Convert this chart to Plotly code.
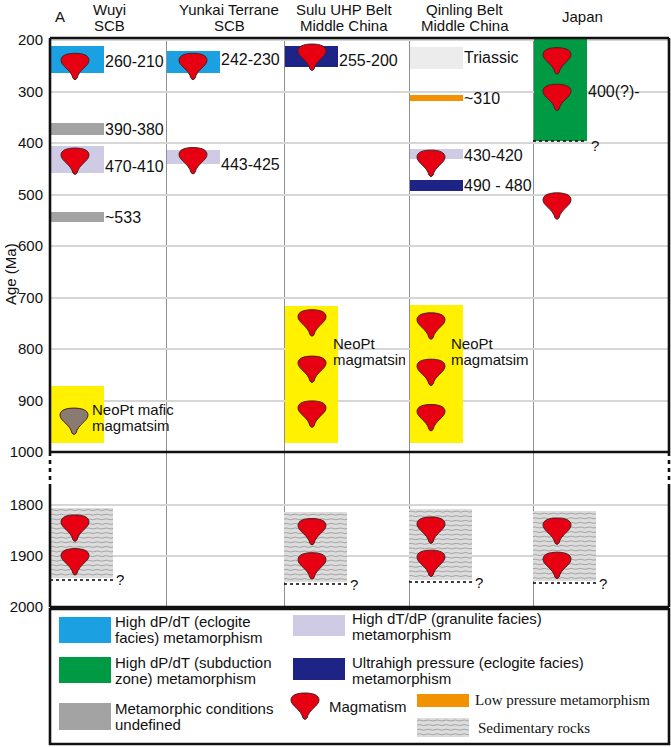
import plotly.graph_objects as go

# ---------------- data ----------------
col_head = [["Wuyi", "SCB"], ["Yunkai Terrane", "SCB"], ["Sulu UHP Belt", "Middle China"],
            ["Qinling Belt", "Middle China"], ["Japan"]]

up_ticks = [200, 300, 400, 500, 600, 700, 800, 900, 1000]
low_ticks = [1800, 1900, 2000]

# metamorphic / magmatic episodes (upper panel, Ma)
rect_kind  = ["hp", "undef", "ht", "undef", "neo", "hp", "ht", "uhp", "neo", "tri", "lp", "ht", "uhp", "neo", "sz"]
rect_col   = [0, 0, 0, 0, 0, 1, 1, 2, 2, 3, 3, 3, 3, 3, 4]
rect_start = [211, 361, 406, 534, 871, 221, 413, 211, 716, 213, 307, 411, 472, 714, 196]
rect_end   = [264, 384, 458, 553, 982, 264, 441, 252, 982, 256, 318, 431, 493, 982, 396]

# sedimentary rocks (lower panel, Ma)
sed_col   = [0, 2, 3, 4]
sed_start = [1805, 1814, 1808, 1812]
sed_end   = [1943, 1951, 1947, 1949]

# magmatism symbols
mag_col = [0, 0, 1, 1, 2, 2, 2, 2, 3, 3, 3, 3, 4, 4, 4]
mag_age = [251, 435, 251, 434, 233, 749, 839, 926, 439, 755, 845, 933, 240, 311, 522]
mag2_col = [0, 0, 2, 2, 3, 3, 4, 4]
mag2_age = [1845, 1911, 1852, 1919, 1849, 1914, 1851, 1918]
mafic_col = [0]
mafic_age = [940]

# text labels next to the bars
lab_text = ["260-210", "390-380", "470-410", "~533", "242-230", "443-425", "255-200",
            "Triassic", "~310", "430-420", "490 - 480", "400(?)-"]
lab_col  = [0, 0, 0, 0, 1, 1, 2, 3, 3, 3, 3, 4]
lab_age  = [241, 373, 445, 545, 237, 441, 239, 233, 313, 425, 483, 299]

# ---------------- layout constants ----------------
W, H = 671, 747
L, R, T, B = 50, 2, 38, 140
PW, PH = W - L - R, H - T - B
MID = 452                      # pixel row of the 1000 Ma break
YD = (T + PH - MID) / PH       # domain split
col_edges = [0, 116, 234, 359, 483, 619]
icon_dx = [25, 27, 28, 22, 24]
head_x = [109, 229, 344, 465, 582]

colors = {"hp": "#1ba1e2", "ht": "#cfcbe5", "undef": "#a3a3a3", "uhp": "#1d2485",
          "sz": "#009a44", "lp": "#f39200", "tri": "#ececec", "neo": "#fff100"}
RED = "#e60012"
BROWN = "#8a7b70"
SED = "#dcdcdc"
FONT = "Liberation Sans, Arial, sans-serif"
SERIF = "Liberation Serif, Times New Roman, serif"

ICON = ("M0,13 C8,13 14,11 14,6 C14,0 4,-3 2,-12 Q0,-15 -2,-12 "
        "C-4,-3 -14,0 -14,6 C-14,11 -8,13 0,13 Z")


def px(x):
    return (x - L) / PW


def py(y):
    return (T + PH - y) / PH


def wave_path(w, h, gap=4.6, period=9.0, amp=1.0):
    parts = []
    y = -2.5
    while -y < h - 1:
        seg = "M0,%.1f Q%.2f,%.1f %.2f,%.1f" % (y, period / 4, y + amp, period / 2, y)
        x = period / 2
        while x < w - 0.5:
            x += period / 2
            seg += " T%.2f,%.1f" % (min(x, w), y)
        parts.append(seg)
        y -= gap
    return " ".join(parts)


fig = go.Figure()

# bars for the episodes
for kind in ["neo", "hp", "ht", "undef", "uhp", "tri", "lp", "sz"]:
    idx = [i for i, k in enumerate(rect_kind) if k == kind]
    w = 53
    xs = [col_edges[rect_col[i]] + 1 + w / 2 for i in idx]
    fig.add_trace(go.Bar(x=xs, y=[rect_end[i] - rect_start[i] for i in idx],
                         base=[rect_start[i] for i in idx], width=w,
                         marker=dict(color=colors[kind], line=dict(width=0)),
                         xaxis="x", yaxis="y", hoverinfo="skip", showlegend=False))

SW = 63
fig.add_trace(go.Bar(x=[col_edges[c] + SW / 2 for c in sed_col],
                     y=[e - s for s, e in zip(sed_start, sed_end)], base=sed_start, width=SW,
                     marker=dict(color=SED, line=dict(width=0)),
                     xaxis="x", yaxis="y2", hoverinfo="skip", showlegend=False))

shapes = []
annos = []

# wavy texture + dotted base of sediments
for c, s, e in zip(sed_col, sed_start, sed_end):
    x0 = col_edges[c]
    shapes.append(dict(type="path", xref="x", yref="y2", xsizemode="pixel", ysizemode="pixel",
                       xanchor=x0, yanchor=s, path=wave_path(SW, (e - s) * 0.51),
                       line=dict(color="#8a8a8a", width=0.7), fillcolor="rgba(0,0,0,0)", layer="above"))
    shapes.append(dict(type="line", xref="x", yref="y2", x0=x0, x1=x0 + SW, y0=e + 4, y1=e + 4,
                       line=dict(color="black", width=1.6, dash="dot"), layer="above"))
    annos.append(dict(x=x0 + SW + 1, y=e + 4, xref="x", yref="y2", text="?", showarrow=False,
                      xanchor="left", yanchor="middle", font=dict(size=15)))

# Japan: dotted bottom of the subduction-zone bar
jc = rect_kind.index("sz")
shapes.append(dict(type="line", xref="x", yref="y", x0=col_edges[4], x1=col_edges[4] + 54,
                   y0=rect_end[jc], y1=rect_end[jc], line=dict(color="black", width=1.6, dash="dot"),
                   layer="above"))
annos.append(dict(x=col_edges[4] + 56, y=rect_end[jc] + 9, xref="x", yref="y", text="?",
                  showarrow=False, xanchor="left", yanchor="middle", font=dict(size=15)))


def icon(x, y, yref, color, xref="x"):
    return dict(type="path", xref=xref, yref=yref, xsizemode="pixel", ysizemode="pixel",
                xanchor=x, yanchor=y, path=ICON, fillcolor=color,
                line=dict(color="#4a2020", width=1), layer="above")


for c, a in zip(mag_col, mag_age):
    shapes.append(icon(col_edges[c] + icon_dx[c], a, "y", RED))
for c, a in zip(mag2_col, mag2_age):
    shapes.append(icon(col_edges[c] + icon_dx[c], a, "y2", RED))
for c, a in zip(mafic_col, mafic_age):
    shapes.append(icon(col_edges[c] + icon_dx[c] - 1, a, "y", BROWN))

# frame
fw = 2.6
for y0, y1, x0, x1 in [(1, 1, 0, 1), (YD, YD, 0, 1), (0, 0, 0, 1), (YD, 1, 0, 0), (YD, 1, 1, 1)]:
    shapes.append(dict(type="line", xref="paper", yref="paper", x0=x0, x1=x1, y0=y0, y1=y1,
                       line=dict(color="#111", width=fw), layer="above"))
for xx, brk in [(0, 485), (1, 487)]:
    shapes.append(dict(type="line", xref="paper", yref="paper", x0=xx, x1=xx, y0=YD, y1=py(brk),
                       line=dict(color="#111", width=fw, dash="4px,4px"), layer="above"))
    shapes.append(dict(type="line", xref="paper", yref="paper", x0=xx, x1=xx, y0=py(brk), y1=0,
                       line=dict(color="#111", width=fw), layer="above"))

# labels
for t, c, a in zip(lab_text, lab_col, lab_age):
    annos.append(dict(x=col_edges[c] + 53, y=a, xref="x", yref="y", text=t, showarrow=False,
                      xanchor="left", yanchor="middle", font=dict(size=16)))

neo_lab = [(0, 40, ["NeoPt mafic", "magmatsim"], None), (2, 47, ["NeoPt", "magmatsim"], 72),
           (3, 40, ["NeoPt", "magmatsim"], None)]
for c, dx, lines, wid in neo_lab:
    base = 918 if c == 0 else 790
    for k, t in enumerate(lines):
        a = dict(x=col_edges[c] + dx, y=base + k * 31, xref="x", yref="y", text=t, showarrow=False,
                 xanchor="left", yanchor="middle", align="left", font=dict(size=15))
        if wid:
            a["width"] = wid
        annos.append(a)

# headers
for hx, lines in zip(head_x, col_head):
    ys = [9, 25] if len(lines) == 2 else [17]
    for yy, t in zip(ys, lines):
        annos.append(dict(x=px(hx), y=py(yy), xref="paper", yref="paper", text=t, showarrow=False,
                          xanchor="center", yanchor="middle", font=dict(size=15)))
annos.append(dict(x=px(60), y=py(17), xref="paper", yref="paper", text="A", showarrow=False,
                  xanchor="center", yanchor="middle", font=dict(size=15)))
annos.append(dict(x=px(10), y=py(274), xref="paper", yref="paper", text="Age (Ma)", showarrow=False,
                  textangle=-90, xanchor="center", yanchor="middle", font=dict(size=15)))

# legend box
shapes.append(dict(type="rect", xref="paper", yref="paper", x0=0, x1=1, y0=py(744), y1=py(609),
                   line=dict(color="#111", width=fw), fillcolor="rgba(0,0,0,0)"))
swatches = [(59, 617, 111, 643, colors["hp"]), (293, 615, 345, 636, colors["ht"]),
            (59, 657, 111, 683, colors["sz"]), (293, 658, 345, 680, colors["uhp"]),
            (59, 703, 111, 730, colors["undef"]), (417, 694, 469, 707, colors["lp"]),
            (417, 718, 469, 737, SED)]
for x0, y0, x1, y1, col in swatches:
    shapes.append(dict(type="rect", xref="paper", yref="paper", x0=px(x0), x1=px(x1),
                       y0=py(y1), y1=py(y0), fillcolor=col, line=dict(width=0)))
shapes.append(dict(type="path", xref="paper", yref="paper", xsizemode="pixel", ysizemode="pixel",
                   xanchor=px(417), yanchor=py(718), path=wave_path(52, 19),
                   line=dict(color="#8a8a8a", width=0.7), fillcolor="rgba(0,0,0,0)"))
shapes.append(icon(px(305), py(706), "paper", RED, xref="paper"))

leg_text = [(113, 621, "High dP/dT (eclogite", FONT), (113, 637, "facies) metamorphism", FONT),
            (350, 618, "High dT/dP (granulite facies)", FONT), (350, 634, "metamorphism", FONT),
            (113, 662, "High dP/dT (subduction", FONT), (113, 678, "zone) metamorphism", FONT),
            (350, 662, "Ultrahigh pressure (eclogite facies)", FONT), (350, 678, "metamorphism", FONT),
            (113, 708, "Metamorphic conditions", FONT), (113, 724, "undefined", FONT),
            (327, 706, "Magmatism", FONT), (473, 700, "Low pressure metamorphism", SERIF),
            (476, 728, "Sedimentary rocks", SERIF)]
for x, y, t, f in leg_text:
    annos.append(dict(x=px(x), y=py(y), xref="paper", yref="paper", text=t, showarrow=False,
                      xanchor="left", yanchor="middle", font=dict(size=15, family=f)))

fig.update_layout(
    width=W, height=H, margin=dict(l=L, r=R, t=T, b=B),
    paper_bgcolor="white", plot_bgcolor="white",
    font=dict(family=FONT, color="#111", size=15),
    barmode="overlay", bargap=0,
    xaxis=dict(range=[0, PW], domain=[0, 1], anchor="y2", tickvals=col_edges[1:-1],
               showticklabels=False, ticks="", showgrid=True, gridcolor="#8f8f8f", gridwidth=1,
               zeroline=False, showline=False),
    yaxis=dict(range=[1000, 196], domain=[YD, 1], anchor="x", tickvals=up_ticks,
               showgrid=True, gridcolor="#d6d6d6", gridwidth=1.5, zeroline=False, showline=False,
               ticks="", ticklabelstandoff=6, tickfont=dict(size=15)),
    yaxis2=dict(range=[2000, 1696], domain=[0, YD], anchor="x", tickvals=low_ticks,
                showgrid=True, gridcolor="#d6d6d6", gridwidth=1.5, zeroline=False, showline=False,
                ticks="", ticklabelstandoff=6, tickfont=dict(size=15)),
    shapes=shapes, annotations=annos,
)

# the page's default 8px body margin would push the figure off the window
fig.write_html("out.html", config={"displayModeBar": False},
               post_script="document.body.style.margin = '0px';")
